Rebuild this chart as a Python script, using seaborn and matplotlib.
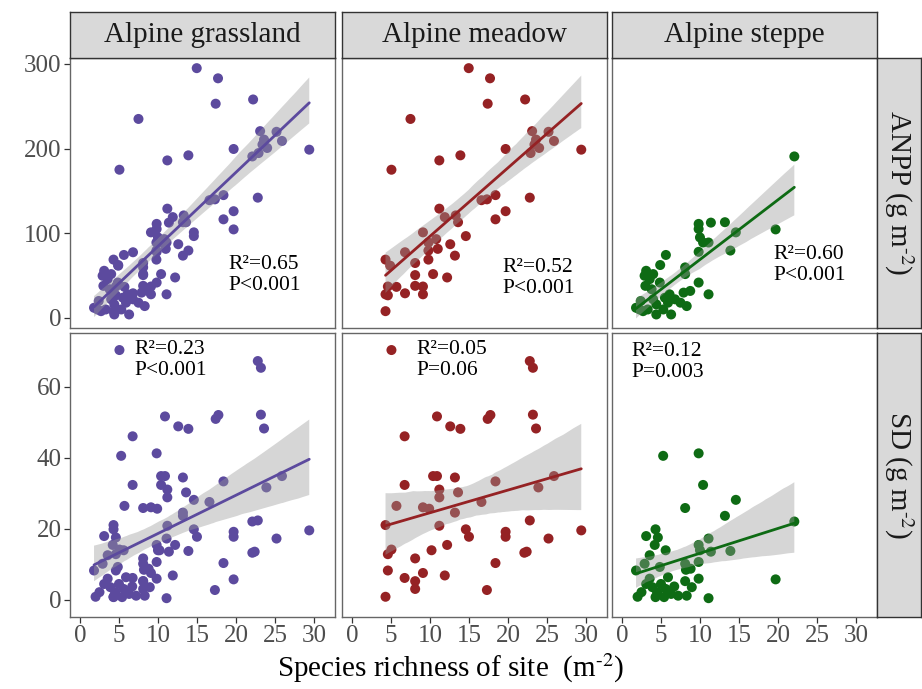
import numpy as np
import pandas as pd
import matplotlib
matplotlib.use("Agg")
import matplotlib.pyplot as plt
import seaborn as sns

# ---------------- data ----------------
habitats = ["Alpine grassland", "Alpine meadow", "Alpine steppe"]
row_labels = ["ANPP (g m$^{\\text{-}2}$)", "SD (g m$^{\\text{-}2}$)"]

meadow_anpp_x = [14.97, 17.7, 17.4, 22.2, 7.5, 5.06, 11.2, 13.9, 19.7, 29.4, 23.1, 25.2, 23.6, 25.9,
                 24.0, 22.9, 23.4, 22.8, 18.4, 17.3, 16.6, 19.7, 18.4, 11.2, 11.9, 13.3, 13.6, 14.6,
                 9.1, 10.8, 9.8, 12.6, 13.2, 11.0, 9.8, 6.8, 4.3, 9.8, 8.1, 4.9, 10.4, 8.1, 12.2,
                 4.6, 5.7, 8.1, 9.1, 4.3, 6.8, 9.1, 4.3, 4.6]
meadow_anpp_y = [295, 283, 253, 258, 235, 175, 186, 192, 199.5, 198.7, 220.6, 219.8, 210.6, 209,
                 200.7, 194.7, 204.7, 142, 145, 140, 139, 126, 116.4, 129, 119, 121, 113, 96.6,
                 101, 93, 89, 87, 73.5, 81.5, 79.5, 77.5, 68.8, 68.8, 64.8, 61.6, 51.7, 50.5, 47.7,
                 37, 36.6, 37.8, 37, 27.8, 29, 27.8, 7.9, 26.6]

steppe_anpp_x = [22.1, 19.7, 9.83, 9.83, 11.4, 13.2, 14.6, 10.0, 10.4, 11.1, 9.83, 13.9, 5.63, 8.1,
                 4.9, 3.1, 4.0, 3.55, 4.85, 3.0, 8.1, 9.83, 8.75, 7.9, 11.1, 6.1, 5.5, 6.8, 2.4,
                 4.0, 7.5, 8.3, 4.4, 1.8, 2.7, 3.3, 4.4, 6.3, 5.3, 2.25, 5.9, 2.9, 3.8]
steppe_anpp_y = [190.7, 104.5, 111, 105, 112.5, 113, 101, 95, 89, 89, 78, 79.5, 74.3, 59.6,
                 62.4, 55.6, 51.7, 45.7, 41.7, 37.8, 51.7, 41.7, 31.8, 29.8, 27.8, 27.8, 23.8, 21.9,
                 19.9, 21.9, 17.9, 13.9, 15.9, 11.9, 7.9, 9.9, 4.0, 4.0, 9.9, 9.9, 17.9, 49.7, 33.8]

meadow_sd_x = [5.06, 22.8, 23.2, 10.9, 17.4, 17.75, 23.2, 12.6, 13.9, 23.6, 6.75, 10.4, 10.9, 13.2,
               6.75, 18.4, 11.2, 13.6, 11.2, 25.9, 23.9, 5.7, 9.1, 9.9, 16.6, 13.2, 4.3, 11.2,
               14.6, 15.0, 19.7, 19.7, 22.8, 25.2, 29.4, 22.4, 22.1, 5.06, 4.6, 10.2, 12.2, 8.1,
               4.6, 6.75, 8.1, 9.1, 11.9, 18.4, 8.1, 4.3, 17.3]
meadow_sd_y = [70.4, 67.3, 65.4, 51.7, 51.0, 52.1, 52.2, 48.9, 48.2, 48.3, 46.1, 34.9, 34.9, 34.5,
               32.4, 33.4, 31.1, 30.3, 28.9, 34.9, 31.7, 26.5, 26.1, 25.7, 27.6, 24.6, 21.1, 20.9,
               19.9, 17.8, 19.2, 17.8, 22.4, 17.3, 19.6, 13.6, 13.3, 14.2, 12.9, 14.0, 15.5, 11.7,
               8.3, 6.2, 5.3, 7.6, 6.9, 10.4, 3.1, 0.9, 2.8]

steppe_sd_x = [5.28, 9.83, 10.4, 14.6, 8.1, 13.2, 22.1, 19.7, 11.1, 9.83, 10.0, 11.4, 13.9, 3.1,
               4.3, 4.6, 4.2, 5.6, 3.55, 2.9, 1.8, 4.85, 8.1, 8.2, 8.8, 9.83, 9.83, 8.95, 3.55,
               6.7, 8.1, 11.1, 7.2, 8.3, 2.0, 2.5, 4.3, 5.4, 6.3, 3.9, 5.0, 5.9, 3.1, 4.5, 5.6]
steppe_sd_y = [40.6, 41.3, 32.4, 28.2, 25.9, 23.7, 22.1, 5.8, 17.3, 15.5, 14.0, 13.6, 13.8, 18.0,
               19.9, 17.6, 15.5, 14.0, 12.6, 10.2, 8.3, 9.3, 10.2, 8.5, 8.8, 10.7, 6.0, 3.6, 6.0,
               3.8, 5.3, 0.5, 1.2, 1.2, 0.9, 2.2, 0.8, 0.8, 1.7, 3.6, 4.5, 6.4, 4.5, 2.2, 3.1]

# Alpine grassland panel shows all sites (meadow + steppe)
grass_anpp_x = meadow_anpp_x + steppe_anpp_x
grass_anpp_y = meadow_anpp_y + steppe_anpp_y
grass_sd_x = meadow_sd_x + steppe_sd_x
grass_sd_y = meadow_sd_y + steppe_sd_y

stats_text = [["R²=0.65\nP<0.001", "R²=0.52\nP<0.001", "R²=0.60\nP<0.001"],
              ["R²=0.23\nP<0.001", "R²=0.05\nP=0.06", "R²=0.12\nP=0.003"]]

x_ticks = [0, 5, 10, 15, 20, 25, 30]
y_ticks = [[0, 100, 200, 300], [0, 20, 40, 60]]

colors = ["#5C4A9E", "#952224", "#0E6B14"]

panels = [[(grass_anpp_x, grass_anpp_y), (meadow_anpp_x, meadow_anpp_y), (steppe_anpp_x, steppe_anpp_y)],
          [(grass_sd_x, grass_sd_y), (meadow_sd_x, meadow_sd_y), (steppe_sd_x, steppe_sd_y)]]

# ---------------- style ----------------
sns.set_style("white")
plt.rcParams["font.family"] = ["Liberation Serif", "DejaVu Serif"]
plt.rcParams["mathtext.fontset"] = "stix"

fig = plt.figure(figsize=(9.22, 6.89), dpi=100)
W, H = 922, 689

col_left = [70, 342, 612]
col_w = 265
row_top = [58, 333]
row_h = [270, 284]
ylims = [(-12, 307), (-4.8, 75.2)]
xlim = (-1.28, 32.7)

text_pos = [[(0.596, 0.196), (0.607, 0.185), (0.61, 0.233)],
            [(0.245, 0.905), (0.28, 0.905), (0.072, 0.898)]]

def fbox(x0, y0, w, h):
    return [x0 / W, 1 - (y0 + h) / H, w / W, h / H]

for r in range(2):
    for c in range(3):
        ax = fig.add_axes(fbox(col_left[c], row_top[r], col_w, row_h[r]))
        xs, ys = panels[r][c]
        df = pd.DataFrame({"x": xs, "y": ys})
        sns.regplot(data=df, x="x", y="y", ax=ax, color=colors[c], ci=95, seed=0,
                    scatter_kws=dict(s=52, alpha=1, edgecolor="none", linewidths=0),
                    line_kws=dict(lw=2.0))
        # grey confidence band as in the reference
        band = ax.collections[-1]
        band.set_facecolor("#999999")
        band.set_alpha(0.4)
        band.set_edgecolor("none")
        ax.set_xlim(*xlim)
        ax.set_ylim(*ylims[r])
        ax.set_xlabel("")
        ax.set_ylabel("")
        ax.set_xticks(x_ticks)
        ax.set_yticks(y_ticks[r])
        for s in ax.spines.values():
            s.set_color("#666666")
            s.set_linewidth(1.0)
        ax.tick_params(axis="both", direction="out", length=4, width=0.9, color="#333333",
                       labelsize=18, labelcolor="#4D4D4D", pad=2)
        if r == 0:
            ax.tick_params(axis="x", bottom=False, labelbottom=False)
        else:
            ax.tick_params(axis="x", bottom=True, labelbottom=True)
        if c == 0:
            ax.tick_params(axis="y", left=True, labelleft=True)
        else:
            ax.tick_params(axis="y", left=False, labelleft=False)
        tx, ty = text_pos[r][c]
        ax.text(tx, ty, stats_text[r][c], transform=ax.transAxes, fontsize=15.5,
                ha="left", va="center", linespacing=1.1, color="black")

# top strips
for c in range(3):
    sax = fig.add_axes(fbox(col_left[c], 12, col_w, 46))
    sax.set_facecolor("#D9D9D9")
    sax.set_xticks([]); sax.set_yticks([])
    for s in sax.spines.values():
        s.set_color("#333333"); s.set_linewidth(1.0)
    sax.text(0.5, 0.5, habitats[c], transform=sax.transAxes, ha="center", va="center",
             fontsize=21, color="#1A1A1A")

# right strips
for r in range(2):
    sax = fig.add_axes(fbox(877, row_top[r], 44, row_h[r]))
    sax.set_facecolor("#D9D9D9")
    sax.set_xticks([]); sax.set_yticks([])
    for s in sax.spines.values():
        s.set_color("#333333"); s.set_linewidth(1.0)
    sax.text(0.5, 0.5, row_labels[r], transform=sax.transAxes, ha="center", va="center",
             rotation=-90, fontsize=21, color="#1A1A1A")

fig.text(451 / W, 1 - 668 / H, "Species richness of site  (m$^{\\text{-}2}$)", ha="center", va="center",
         fontsize=21, color="black")

fig.savefig("out.png", dpi=100)
